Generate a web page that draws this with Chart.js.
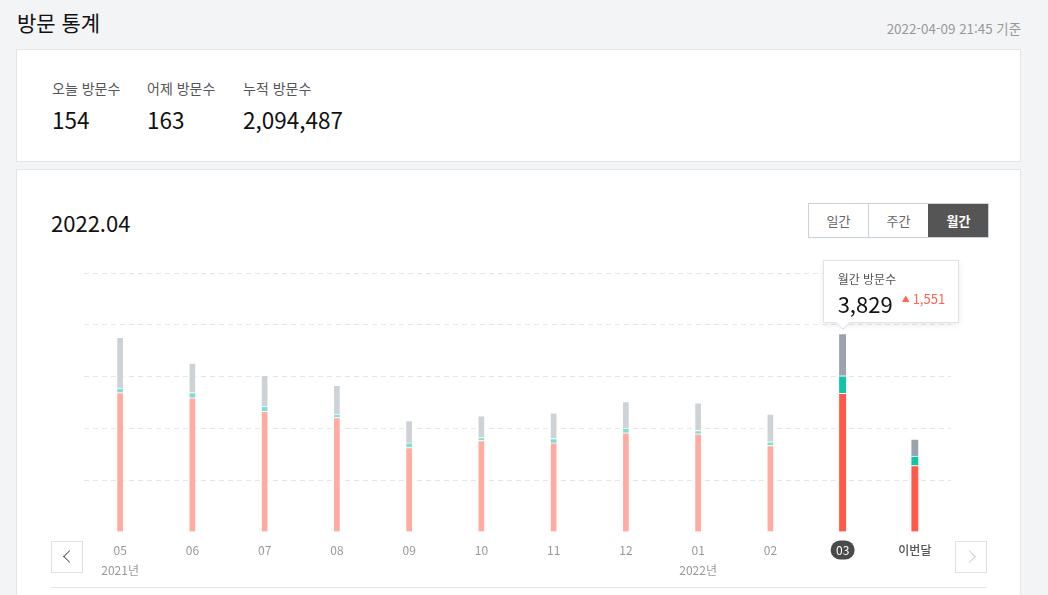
<!DOCTYPE html>
<html lang="ko">
<head>
<meta charset="utf-8">
<title>방문 통계</title>
<script src="https://cdn.jsdelivr.net/npm/chart.js@4.4.1/dist/chart.umd.min.js"></script>
<style>
  html, body { margin: 0; padding: 0; }
  body {
    width: 1048px; height: 595px; overflow: hidden; position: relative;
    background: #f3f4f6;
    font-family: "Noto Sans CJK KR", "Noto Sans", sans-serif;
    color: #111;
  }
  .title { position: absolute; left: 17px; top: 6px; font-size: 21px; line-height: 32px; color: #111; }
  .stamp { position: absolute; right: 27px; top: 18px; font-size: 13.4px; line-height: 20px; color: #999; }
  .card { position: absolute; left: 16px; width: 1003px; background: #fff; border: 1px solid #e2e4e8; }
  .card1 { top: 49px; height: 111px; }
  .card2 { top: 169px; height: 460px; }
  .stat { position: absolute; top: 27px; }
  .stat .lbl { font-size: 14px; color: #555; line-height: 22px; }
  .stat .num { font-size: 22.5px; color: #111; line-height: 30px; margin-top: 5px; }
  .month { position: absolute; left: 34px; top: 36px; font-size: 22px; line-height: 32px; color: #111; }
  .tabs { position: absolute; left: 791px; top: 33px; display: flex; border: 1px solid #c9d1db; }
  .tabs div { width: 59px; height: 33px; line-height: 33px; text-align: center; font-size: 13px; color: #666; border-left: 1px solid #c9d1db; }
  .tabs div:first-child { border-left: none; }
  .tabs div.on { background: #555; color: #fff; font-weight: bold; border-left-color: #555; }
  .nav { position: absolute; top: 541px; width: 30px; height: 30px; border: 1px solid #dde0e5; background: #fff; }
  .nav i { position: absolute; top: 10px; width: 8px; height: 8px; border-left: 1.6px solid; border-bottom: 1.6px solid; }
  .nav.prev i { left: 13px; transform: rotate(45deg); border-color: #555; }
  .nav.next i { left: 9px; transform: rotate(-135deg); border-color: #ccc; }
  .rule { position: absolute; left: 51px; top: 587px; width: 936px; height: 1px; background: #e3e5e8; }
  #chart { position: absolute; left: 51px; top: 255px; }
  .tip { position: absolute; width: 134px; height: 61px; background: #fff; border: 1px solid #dfe2e7;
         box-shadow: 0 2px 6px rgba(0,0,0,0.08); }
  .tip:after { content: ""; position: absolute; left: 14px; bottom: -6px; width: 9px; height: 9px; background: #fff;
               border-right: 1px solid #dfe2e7; border-bottom: 1px solid #dfe2e7; transform: rotate(45deg); }
  .tip .tl { position: absolute; left: 14px; top: 10px; font-size: 12px; line-height: 16px; color: #555; }
  .tip .tv { position: absolute; left: 14px; top: 28px; font-size: 22px; line-height: 28px; color: #111; }
  .tip .td { position: absolute; left: 78px; top: 29px; font-size: 13px; line-height: 18px; color: #ff6352; }
  .tip .td span { font-size: 8px; vertical-align: 2px; margin-right: 3px; }
</style>
</head>
<body>
<div class="title">방문 통계</div>
<div class="stamp">2022-04-09 21:45 기준</div>

<div class="card card1">
  <div class="stat" style="left:35px"><div class="lbl">오늘 방문수</div><div class="num" id="today"></div></div>
  <div class="stat" style="left:130px"><div class="lbl">어제 방문수</div><div class="num" id="yesterday"></div></div>
  <div class="stat" style="left:226px"><div class="lbl">누적 방문수</div><div class="num" id="total"></div></div>
</div>

<div class="card card2">
  <div class="month">2022.04</div>
  <div class="tabs"><div>일간</div><div>주간</div><div class="on">월간</div></div>
</div>

<canvas id="chart" width="937" height="333"></canvas>

<div class="nav prev" style="left:51px"><i></i></div>
<div class="nav next" style="left:955px"><i></i></div>
<div class="rule"></div>

<div class="tip" id="tip">
  <div class="tl">월간 방문수</div>
  <div class="tv" id="tipVal"></div>
  <div class="td" id="tipDelta"></div>
</div>

<script>
// summary numbers
const todayVisits = 154;
const yesterdayVisits = 163;
const totalVisits = 2094487;

// monthly chart
const months = ['05', '06', '07', '08', '09', '10', '11', '12', '01', '02', '03', '이번달'];
const yearLabels = ['2021년', '', '', '', '', '', '', '', '2022년', '', '', ''];
const seriesBase = [2690, 2590, 2330, 2210, 1630, 1766, 1720, 1915, 1896, 1670, 2675, 1282];
const seriesMid  = [90, 100, 100, 66, 90, 58, 85, 91, 63, 72, 342, 182];
const seriesTop  = [978, 573, 593, 554, 433, 420, 497, 514, 536, 536, 812, 329];
const selectedIdx = 10;
const currentIdx = 11;

const fmt = n => n.toLocaleString('en-US');
document.getElementById('today').textContent = fmt(todayVisits);
document.getElementById('yesterday').textContent = fmt(yesterdayVisits);
document.getElementById('total').textContent = fmt(totalVisits);

const labels = months.map((m, i) => yearLabels[i] ? [m, yearLabels[i]] : m);

const isStrong = i => i === selectedIdx || i === currentIdx;
const paint = (strong, faded) => ctx => isStrong(ctx.dataIndex) ? strong : faded;
const edge = ctx => isStrong(ctx.dataIndex)
  ? { top: 1, bottom: 0, left: 0, right: 0 }
  : { top: 1, bottom: 0, left: 1, right: 1 };

function makeSet(name, values, strong, faded) {
  return {
    label: name,
    data: values,
    backgroundColor: paint(strong, faded),
    borderColor: '#ffffff',
    borderWidth: edge,
    borderSkipped: false,
    barThickness: 7
  };
}

// draws the dark pill behind the selected month label
const pillPlugin = {
  id: 'pill',
  beforeDraw(chart) {
    const c = chart.ctx;
    const x = chart.scales.x.getPixelForValue(selectedIdx);
    const y = chart.chartArea.bottom + 18;
    c.save();
    c.fillStyle = '#4a4a4a';
    c.beginPath();
    c.roundRect(x - 12, y - 9.5, 24, 19, 9.5);
    c.fill();
    c.restore();
  }
};

const chart = new Chart(document.getElementById('chart'), {
  type: 'bar',
  data: {
    labels: labels,
    datasets: [
      makeSet('base', seriesBase, '#ff5a49', '#ffaba1'),
      makeSet('mid', seriesMid, '#12c3a6', '#82ddd1'),
      makeSet('top', seriesTop, '#9aa2ac', '#cdd2d6')
    ]
  },
  options: {
    responsive: false,
    animation: false,
    layout: { padding: { left: 33, right: 37, top: 18, bottom: 0 } },
    plugins: { legend: { display: false }, tooltip: { enabled: false } },
    scales: {
      x: {
        stacked: true,
        grid: { display: false, drawTicks: false },
        border: { display: false },
        ticks: {
          autoSkip: false,
          maxRotation: 0,
          padding: 8,
          font: ctx => ({ family: '"Noto Sans CJK KR", "Noto Sans", sans-serif', size: 12, lineHeight: 1.667,
                          weight: ctx.index === currentIdx ? '500' : 'normal' }),
          color: ctx => ctx.index === selectedIdx ? '#ffffff' : (ctx.index === currentIdx ? '#555' : '#999')
        }
      },
      y: {
        stacked: true,
        min: 0,
        max: 5000,
        ticks: { display: false, stepSize: 1000 },
        grid: {
          drawTicks: false,
          color: ctx => ctx.tick && ctx.tick.value === 0 ? 'rgba(0,0,0,0)' : '#e6e6e6'
        },
        border: { display: false, dash: [5, 4] }
      }
    }
  },
  plugins: [pillPlugin]
});

// place the summary box above the selected bar
const selTotal = seriesBase[selectedIdx] + seriesMid[selectedIdx] + seriesTop[selectedIdx];
const prevTotal = seriesBase[selectedIdx - 1] + seriesMid[selectedIdx - 1] + seriesTop[selectedIdx - 1];
document.getElementById('tipVal').textContent = fmt(selTotal);
document.getElementById('tipDelta').innerHTML = '<span>&#9650;</span>' + fmt(selTotal - prevTotal);
const tip = document.getElementById('tip');
const bx = 51 + chart.scales.x.getPixelForValue(selectedIdx);
const by = 255 + chart.scales.y.getPixelForValue(selTotal);
tip.style.left = (bx - 20) + 'px';
tip.style.top = (by - 11 - 63) + 'px';
</script>
</body>
</html>
